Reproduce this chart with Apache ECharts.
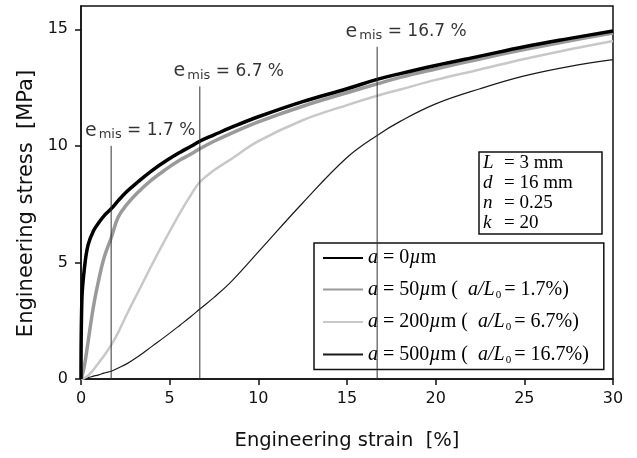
<!DOCTYPE html>
<html>
<head>
<meta charset="utf-8">
<script src="https://cdn.jsdelivr.net/npm/echarts@6/dist/echarts.min.js"></script>
<style>
html, body { margin: 0; padding: 0; background: #fff; }
#chart { width: 637px; height: 458px; }
</style>
</head>
<body>
<div id="chart"></div>
<script>
// strain [%] sampled along the curves
const strain = [0, 0.05, 0.2, 0.4, 0.7, 1, 1.3, 1.7, 2.1, 2.6, 3.2, 4, 4.8, 5.6, 6.2, 6.7, 7.5, 8.5, 10, 12.5, 15, 16.7, 18, 20, 22.5, 25, 27.5, 30];

// stress [MPa]
const stressA0   = [0, 3.4, 4.8, 5.75, 6.35, 6.7, 7.0, 7.3, 7.65, 8.05, 8.45, 8.94, 9.36, 9.73, 9.98, 10.2, 10.47, 10.8, 11.25, 11.9, 12.45, 12.85, 13.1, 13.45, 13.85, 14.25, 14.6, 14.93];
const stressA50  = [0, 0.1, 0.6, 1.6, 3.1, 4.25, 5.2, 6.05, 6.95, 7.5, 8.0, 8.55, 9.0, 9.4, 9.65, 9.88, 10.2, 10.55, 11.03, 11.7, 12.28, 12.66, 12.94, 13.3, 13.73, 14.13, 14.5, 14.84];
const stressA200 = [0, 0.01, 0.05, 0.15, 0.4, 0.7, 1.0, 1.45, 2.0, 2.8, 3.7, 4.9, 6.05, 7.15, 7.9, 8.45, 8.95, 9.45, 10.2, 11.1, 11.75, 12.15, 12.42, 12.83, 13.28, 13.73, 14.13, 14.5];
const stressA500 = [0, 0.005, 0.03, 0.06, 0.12, 0.18, 0.25, 0.33, 0.47, 0.66, 0.95, 1.4, 1.85, 2.32, 2.68, 3.0, 3.5, 4.2, 5.45, 7.55, 9.5, 10.45, 11.05, 11.8, 12.45, 13.0, 13.4, 13.7];

// misalignment markers: strain position and top of the line
const misStrain = [1.7, 6.7, 16.7];
const misTop = [10.0, 12.55, 14.25];
const misText = ['1.7 %', '6.7 %', '16.7 %'];

const xTicks = [0, 5, 10, 15, 20, 25, 30];
const yTicks = [0, 5, 10, 15];

const seriesNames = ['a0', 'a50', 'a200', 'a500'];
const legendText = {
    a0: '{i|a}{t| = 0}{i|µ}{t|m}',
    a50: '{i|a}{t| = 50}{i|µ}{t|m (  }{i|a/L}{sub|0}{t|= 1.7%)}',
    a200: '{i|a}{t| = 200}{i|µ}{t|m (  }{i|a/L}{sub|0}{t|= 6.7%)}',
    a500: '{i|a}{t| = 500}{i|µ}{t|m (  }{i|a/L}{sub|0}{t|= 16.7%)}'
};

function pairs(xs, ys) {
    return xs.map(function (x, i) { return [x, ys[i]]; });
}

const serif = 'Liberation Serif';
const sans = 'DejaVu Sans';

const curveSeries = [
    { name: 'a500', data: stressA500, color: '#1a1a1a', width: 1.2, z: 2 },
    { name: 'a200', data: stressA200, color: '#c8c8c8', width: 2.5, z: 3 },
    { name: 'a50', data: stressA50, color: '#9a9a9a', width: 3.5, z: 4 },
    { name: 'a0', data: stressA0, color: '#000', width: 3.5, z: 5 }
].map(function (s) {
    return {
        name: s.name,
        type: 'line',
        data: pairs(strain, s.data),
        symbol: 'none',
        smooth: 0.4,
        z: s.z,
        color: s.color,
        lineStyle: { color: s.color, width: s.width },
        silent: true
    };
});

const markerSeries = misStrain.map(function (x, i) {
    return {
        type: 'line',
        data: [[x, 0], [x, misTop[i]]],
        symbol: 'none',
        lineStyle: { color: '#333', width: 1 },
        z: 6,
        silent: true
    };
});

const markerLabels = {
    type: 'scatter',
    data: misStrain.map(function (x, i) { return [x, misTop[i]]; }),
    symbolSize: 1,
    itemStyle: { color: 'rgba(0,0,0,0)' },
    silent: true,
    z: 7,
    label: {
        show: true,
        position: 'top',
        distance: 4,
        offset: [29, 0],
        color: '#000',
        formatter: function (p) {
            return '{e|e}{s|mis}{t| = ' + misText[p.dataIndex] + '}';
        },
        rich: {
            e: { fontFamily: sans, fontSize: 19, color: '#000' },
            s: { fontFamily: sans, fontSize: 13, color: '#000', padding: [8, 0, 0, 2] },
            t: { fontFamily: sans, fontSize: 17, color: '#000' }
        }
    }
};

const option = {
    backgroundColor: '#fff',
    animation: false,
    title: {
        left: 479,
        top: 152,
        padding: [1, 29, 1, 4],
        borderColor: '#111',
        borderWidth: 1.5,
        backgroundColor: '#fff',
        text: '{i|L}{t|= 3 mm}\n{i|d}{t|= 16 mm}\n{i|n}{t|= 0.25}\n{i|k}{t|= 20}',
        textStyle: {
            fontFamily: serif,
            fontSize: 19,
            fontWeight: 'normal',
            lineHeight: 20,
            color: '#000',
            rich: {
                i: { fontFamily: serif, fontSize: 19, fontStyle: 'italic', lineHeight: 20, width: 21, color: '#000' },
                t: { fontFamily: serif, fontSize: 19, lineHeight: 20, color: '#000' }
            }
        }
    },
    legend: {
        orient: 'vertical',
        left: 314,
        top: 243,
        padding: [5, 15, 4, 8],
        itemWidth: 40,
        itemHeight: 14,
        itemGap: 11.5,
        borderColor: '#111',
        borderWidth: 1.5,
        backgroundColor: '#fff',
        itemStyle: { color: 'rgba(0,0,0,0)', borderWidth: 0 },
        data: seriesNames,
        formatter: function (name) {
            return legendText[name];
        },
        textStyle: {
            fontFamily: serif,
            fontSize: 20,
            color: '#000',
            rich: {
                i: { fontFamily: serif, fontSize: 20, fontStyle: 'italic', lineHeight: 22, color: '#000' },
                t: { fontFamily: serif, fontSize: 20, lineHeight: 22, color: '#000' },
                sub: { fontFamily: serif, fontSize: 11, lineHeight: 11, verticalAlign: 'bottom', color: '#000', padding: [0, 3, 0, 1] }
            }
        }
    },
    grid: {
        left: 81,
        top: 6,
        right: 24,
        bottom: 79,
        show: true,
        borderColor: '#111',
        borderWidth: 1.5
    },
    xAxis: {
        type: 'value',
        min: 0,
        max: 30,
        interval: 5,
        name: 'Engineering strain  [%]',
        nameLocation: 'middle',
        nameGap: 52,
        nameTextStyle: { fontFamily: sans, fontSize: 19.5, color: '#111' },
        axisLine: { show: true, lineStyle: { color: '#111', width: 1.5 } },
        axisTick: { show: true, length: 6, customValues: xTicks, lineStyle: { color: '#111', width: 1.5 } },
        axisLabel: { customValues: xTicks, margin: 12, fontFamily: sans, fontSize: 16, color: '#111' },
        splitLine: { show: false }
    },
    yAxis: {
        type: 'value',
        min: 0,
        max: 16,
        interval: 5,
        name: 'Engineering stress  [MPa]',
        nameLocation: 'middle',
        nameGap: 42,
        nameTextStyle: { fontFamily: sans, fontSize: 21, color: '#111', padding: [0, 22, 0, 0] },
        axisLine: { show: true, lineStyle: { color: '#111', width: 1.5 } },
        axisTick: { show: true, length: 6, customValues: yTicks, lineStyle: { color: '#111', width: 1.5 } },
        axisLabel: { customValues: yTicks, margin: 13, fontFamily: sans, fontSize: 16, color: '#111' },
        splitLine: { show: false }
    },
    series: curveSeries.concat(markerSeries, [markerLabels])
};

const chart = echarts.init(document.getElementById('chart'));
chart.setOption(option);
</script>
</body>
</html>
